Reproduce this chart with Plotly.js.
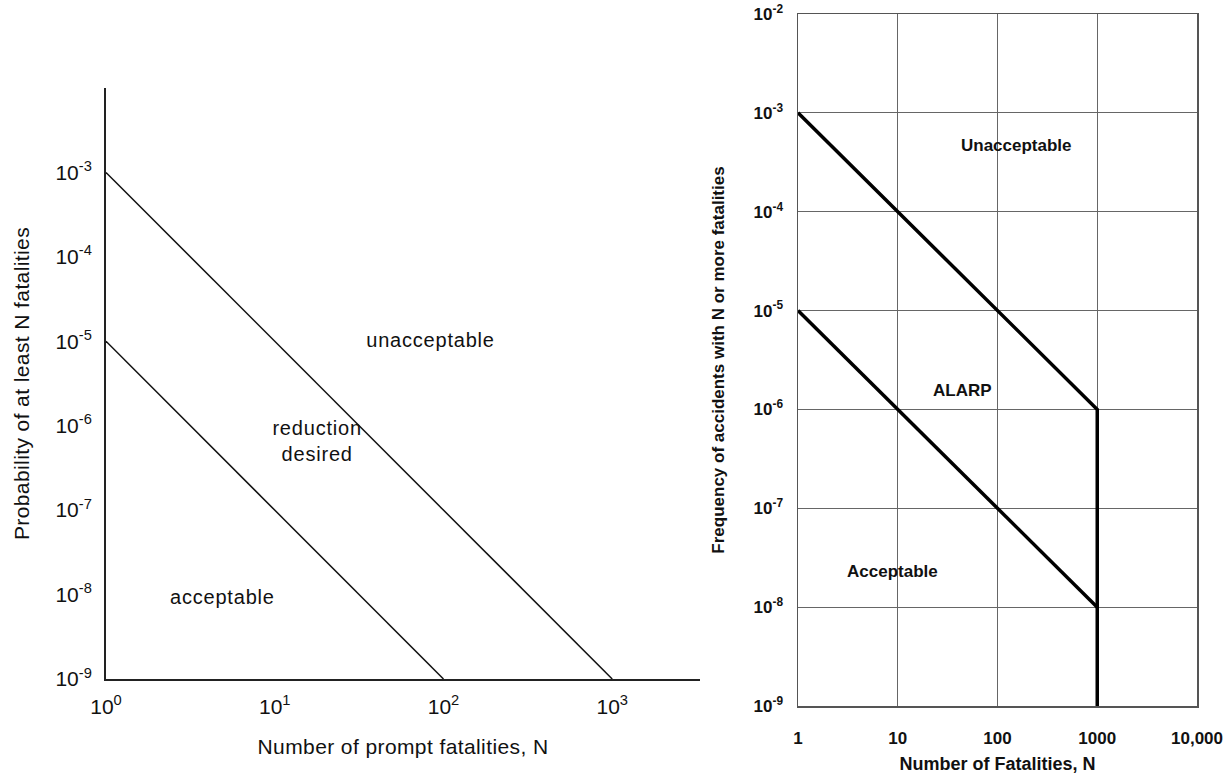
<!DOCTYPE html>
<html>
<head>
<meta charset="utf-8">
<script src="https://cdn.plot.ly/plotly-3.0.1.min.js"></script>
<style>
html,body{margin:0;padding:0;background:#fff;}
#chart{width:1229px;height:780px;}
#chart .xtitle, #chart .ytitle {letter-spacing: 0.4px;}
#chart .annotation[data-index="0"] text,
#chart .annotation[data-index="1"] text,
#chart .annotation[data-index="2"] text {letter-spacing: 0.8px;}
</style>
</head>
<body>
<div id="chart"></div>
<script>
// ---- Left chart data ----
const leftUpperN = [1, 1000];
const leftUpperP = [1e-3, 1e-9];
const leftLowerN = [1, 100];
const leftLowerP = [1e-5, 1e-9];
const leftXTickVals = [1, 10, 100, 1000];
const leftXTickText = ["10<sup>0</sup>", "10<sup>1</sup>", "10<sup>2</sup>", "10<sup>3</sup>"];
const leftYTickVals = [1e-3, 1e-4, 1e-5, 1e-6, 1e-7, 1e-8, 1e-9];
const leftYTickText = ["10<sup>-3</sup>", "10<sup>-4</sup>", "10<sup>-5</sup>", "10<sup>-6</sup>", "10<sup>-7</sup>", "10<sup>-8</sup>", "10<sup>-9</sup>"];
const leftRegionLabels = ["unacceptable", "reduction<br>desired", "acceptable"];
const leftRegionLogX = [1.92, 1.25, 0.69];
const leftRegionLogY = [-4.99, -6.18, -8.03];

// ---- Right chart data ----
const rightUpperN = [1, 1000, 1000];
const rightUpperF = [1e-3, 1e-6, 1e-9];
const rightLowerN = [1, 1000];
const rightLowerF = [1e-5, 1e-8];
const rightXTickVals = [1, 10, 100, 1000, 10000];
const rightXTickText = ["1", "10", "100", "1000", "10,000"];
const rightYTickVals = [1e-2, 1e-3, 1e-4, 1e-5, 1e-6, 1e-7, 1e-8, 1e-9];
const rightYTickText = ["10<sup>-2</sup>", "10<sup>-3</sup>", "10<sup>-4</sup>", "10<sup>-5</sup>", "10<sup>-6</sup>", "10<sup>-7</sup>", "10<sup>-8</sup>", "10<sup>-9</sup>"];
const rightRegionLabels = ["Unacceptable", "ALARP", "Acceptable"];
const rightRegionLogX = [2.195, 1.654, 0.952];
const rightRegionLogY = [-3.335, -5.81, -7.64];

const W = 1229, H = 780;
const px = v => v / W;
const py = v => 1 - v / H;

const regFont = {family: "Liberation Sans, Arial, sans-serif", color: "#111"};
const boldFont = {family: "Liberation Sans, Arial, sans-serif", color: "#111", weight: "bold"};

const traces = [
  {x: leftUpperN, y: leftUpperP, xaxis: "x", yaxis: "y", mode: "lines",
   line: {color: "#111", width: 1.5}, hoverinfo: "skip", showlegend: false},
  {x: leftLowerN, y: leftLowerP, xaxis: "x", yaxis: "y", mode: "lines",
   line: {color: "#111", width: 1.5}, hoverinfo: "skip", showlegend: false},
  {x: rightUpperN, y: rightUpperF, xaxis: "x2", yaxis: "y2", mode: "lines",
   line: {color: "#000", width: 3.5}, hoverinfo: "skip", showlegend: false},
  {x: rightLowerN, y: rightLowerF, xaxis: "x2", yaxis: "y2", mode: "lines",
   line: {color: "#000", width: 3.5}, hoverinfo: "skip", showlegend: false}
];

const annotations = [];
leftRegionLabels.forEach((t, i) => annotations.push({
  text: t, x: leftRegionLogX[i], y: leftRegionLogY[i], xref: "x", yref: "y",
  showarrow: false, font: Object.assign({size: 20}, regFont), align: "center"
}));
rightRegionLabels.forEach((t, i) => annotations.push({
  text: t, x: rightRegionLogX[i], y: rightRegionLogY[i], xref: "x2", yref: "y2",
  showarrow: false, font: Object.assign({size: 17}, boldFont), align: "center"
}));

const layout = {
  width: W, height: H,
  margin: {l: 0, r: 0, t: 0, b: 0},
  paper_bgcolor: "#fff", plot_bgcolor: "rgba(0,0,0,0)",
  showlegend: false,
  xaxis: {
    type: "log", domain: [px(106), px(700)], range: [0, 3.52],
    showline: true, linecolor: "#222", linewidth: 2, showgrid: false, zeroline: false,
    ticks: "", tickvals: leftXTickVals, ticktext: leftXTickText,
    tickfont: Object.assign({size: 21}, regFont), ticklabelstandoff: 8,
    title: {text: "Number of prompt fatalities, N", font: Object.assign({size: 21}, regFont), standoff: 22},
    anchor: "y", fixedrange: true
  },
  yaxis: {
    type: "log", domain: [py(679), py(88)], range: [-9, -2],
    showline: true, linecolor: "#222", linewidth: 2, showgrid: false, zeroline: false,
    ticks: "", tickvals: leftYTickVals, ticktext: leftYTickText,
    tickfont: Object.assign({size: 21}, regFont), ticklabelstandoff: 8,
    title: {text: "Probability of at least N fatalities", font: Object.assign({size: 21}, regFont), standoff: 20},
    anchor: "x", fixedrange: true
  },
  xaxis2: {
    type: "log", domain: [px(798), px(1197)], range: [0, 4],
    showline: true, mirror: true, linecolor: "#555", linewidth: 1.5,
    showgrid: true, gridcolor: "#666", gridwidth: 1, zeroline: false,
    ticks: "", tickvals: rightXTickVals, ticktext: rightXTickText,
    tickfont: Object.assign({size: 17}, boldFont), ticklabelstandoff: 16,
    title: {text: "Number of Fatalities, N", font: Object.assign({size: 18}, boldFont), standoff: 10},
    anchor: "y2", fixedrange: true
  },
  yaxis2: {
    type: "log", domain: [py(706), py(14)], range: [-9, -2],
    showline: true, mirror: true, linecolor: "#555", linewidth: 1.5,
    showgrid: true, gridcolor: "#666", gridwidth: 1, zeroline: false,
    ticks: "", tickvals: rightYTickVals, ticktext: rightYTickText,
    tickfont: Object.assign({size: 17}, boldFont), ticklabelstandoff: 10,
    title: {text: "Frequency of accidents with N or more fatalities", font: Object.assign({size: 17}, boldFont), standoff: 24},
    anchor: "x2", fixedrange: true
  },
  annotations: annotations
};

Plotly.newPlot("chart", traces, layout, {displayModeBar: false, staticPlot: true});
</script>
</body>
</html>
